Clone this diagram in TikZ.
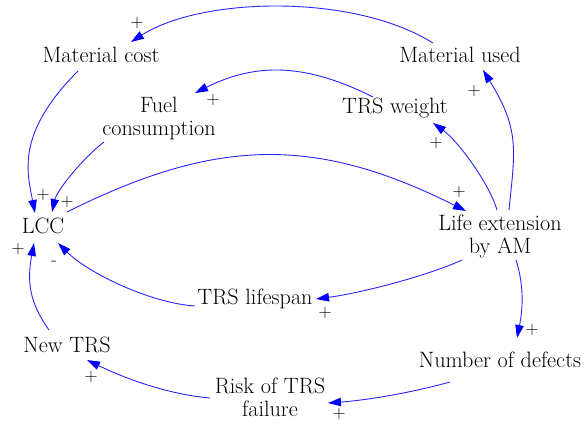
\documentclass[tikz,border=0pt]{standalone}
\usetikzlibrary{arrows.meta,calc}

\begin{document}
\begin{tikzpicture}[x=1pt,y=-1pt]

% Styles for the variables, the causal links and the polarity signs
\tikzstyle{var}=[inner sep=0pt, align=center, font=\fontsize{22.2}{23}\selectfont]
\tikzstyle{link}=[draw=blue!85, line width=0.9pt, -{Triangle[length=13pt,width=8.5pt,color=blue]}]
\tikzstyle{sign}=[inner sep=0pt, font=\fontsize{18}{20}\selectfont]

\useasboundingbox (0,0) rectangle (585,423);

% Variables (positions in pixels of the original figure, y downwards)
\node [var] (mc)  at (101,55)  {Material cost};
\node [var] (mu)  at (460,55)  {Material used};
\node [var] (fc)  at (159,118) {Fuel\\consumption};
\node [var] (tw)  at (395,108) {TRS weight};
\node [var] (lcc) at (43,226)  {LCC};
\node [var] (le)  at (500,236) {Life extension\\by AM};
\node [var] (tl)  at (255,299) {TRS lifespan};
\node [var] (nt)  at (67,345)  {New TRS};
\node [var] (nd)  at (500,360) {Number of defects};
\node [var] (rf)  at (270,397) {Risk of TRS\\failure};

% Upper loops: material and weight
\draw [link] ($(mu)+(-27,-12)$) .. controls +(-80,-50) and +(70,-45) .. ($(mc)+(30,-13)$);
\draw [link] ($(tw)+(-22,-11)$) .. controls +(-64,-32) and +(64,-32) .. ($(fc)+(36,-25)$);
\draw [link] ($(le)+(9,-26)$) .. controls +(6,-60) and +(37,60) .. ($(mu)+(23,15)$);
\draw [link] ($(le)+(-3,-26)$) .. controls +(-8,-27) and +(25,18) .. ($(tw)+(38,15)$);

% Links into and out of LCC
\draw [link] ($(lcc)+(24,-14)$) .. controls +(150,-75) and +(-150,-75) .. ($(le)+(-34,-25)$);
\draw [link] ($(mc)+(-23,16)$) .. controls +(-62,62) and +(-8,-41) .. ($(lcc)+(-8,-13)$);
\draw [link] ($(fc)+(-55,24)$) .. controls +(-20,15) and +(5,-22) .. ($(lcc)+(9,-14)$);
\draw [link] ($(nt)+(-18,-15)$) .. controls +(-20,-28) and +(-7,38) .. ($(lcc)+(-9,17)$);

% Lifespan and defects
\draw [link] ($(le)+(-38,24)$) .. controls +(-35,16) and +(45,-6) .. ($(tl)+(61,0)$);
\draw [link] ($(tl)+(-60,7)$) .. controls +(-45,-3) and +(30,30) .. ($(lcc)+(15,17)$);
\draw [link] ($(le)+(16,24)$) .. controls +(8,25) and +(6,-30) .. ($(nd)+(17,-22)$);
\draw [link] ($(nd)+(-50,22)$) .. controls +(-40,11) and +(40,-3) .. ($(rf)+(58,6)$);
\draw [link] ($(rf)+(-60,1)$) .. controls +(-45,-4) and +(35,17) .. ($(nt)+(20,15)$);

% Polarity of each link
\node [sign] (s1)  at (137,23)  {+};
\node [sign] (s2)  at (213,100) {+};
\node [sign] (s3)  at (474,91)  {+};
\node [sign] (s4)  at (436,143) {+};
\node [sign] (s5)  at (459,192) {+};
\node [sign] (s6)  at (43,195)  {+};
\node [sign] (s7)  at (67,202)  {+};
\node [sign] (s8)  at (18,249)  {+};
\node [sign] (s9)  at (54,263)  {-};
\node [sign] (s10) at (325,313) {+};
\node [sign] (s11) at (532,330) {+};
\node [sign] (s12) at (339,414) {+};
\node [sign] (s13) at (91,377)  {+};

\end{tikzpicture}
\end{document}
